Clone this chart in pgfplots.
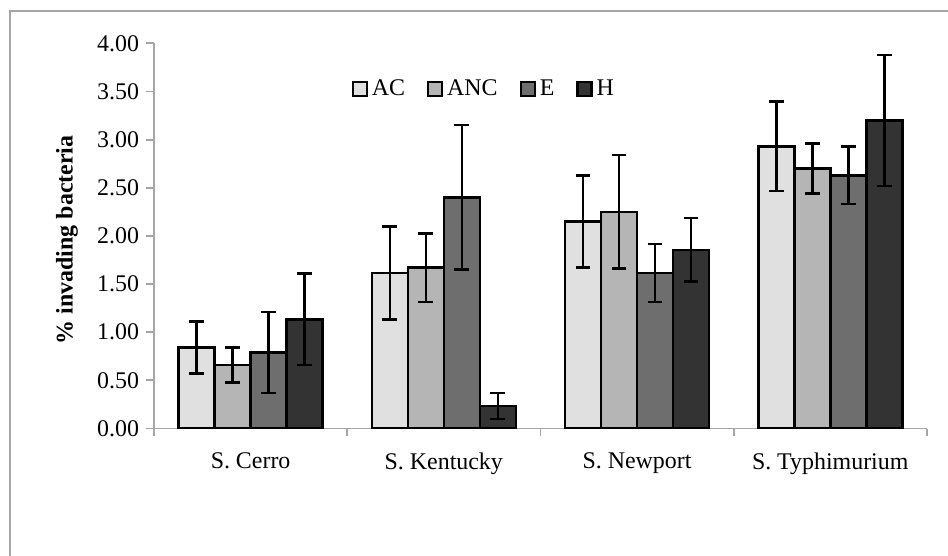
\documentclass[border=0pt]{standalone}
\usepackage{pgfplots}
\pgfplotsset{compat=1.18}
\usepackage{fontspec}
\setmainfont{Liberation Serif}
\definecolor{cAC}{HTML}{E0E0E0}
\definecolor{cANC}{HTML}{B5B5B5}
\definecolor{cE}{HTML}{6E6E6E}
\definecolor{cH}{HTML}{333333}
\definecolor{axgray}{HTML}{A6A6A6}
\pgfplotsset{sqlegend/.style={legend image code/.code={\draw[##1,line width=1.1bp] (0bp,-3.5bp) rectangle (7bp,3.5bp);}}}
\begin{document}
\begin{tikzpicture}
\clip (0,0) rectangle (474bp,278bp);
\draw[axgray,line width=1bp] (5bp,272.5bp) rectangle (490bp,-10bp);
\begin{axis}[
  at={(77bp,63.75bp)}, anchor=south west,
  scale only axis, width=386.4bp, height=192.6bp,
  ybar=0pt, bar width=18bp,
  xmin=-0.5, xmax=3.5, ymin=0, ymax=4,
  xtick={-0.5,0.5,1.5,2.5,3.5},
  xticklabels={S. Cerro,S. Kentucky,S. Newport,S. Typhimurium},
  x tick label as interval,
  ytick={0,0.5,...,4},
  axis x line*=bottom, axis y line*=left,
  axis line style={axgray,line width=0.9bp,-},
  tick style={axgray,line width=0.9bp},
  tick align=outside, major tick length=4bp,
  font=\fontsize{12}{14}\selectfont,
  ticklabel style={font=\fontsize{12}{14}\selectfont, black},
  yticklabel style={/pgf/number format/.cd, fixed, fixed zerofill, precision=2, assume math mode=true},
  xticklabel style={yshift=-4.5bp},
  ylabel={\textbf{\% invading bacteria}},
  ylabel style={at={(axis description cs:-0.1126,0.49)}, anchor=center, font=\fontsize{12}{14}\selectfont},
  legend columns=4,
  legend style={draw=none, fill=none, at={(axis description cs:0.428,0.882)}, anchor=center,
    font=\fontsize{12}{14}\selectfont, /tikz/every even column/.append style={column sep=9bp},
    /tikz/every odd column/.append style={column sep=0bp}},
  legend cell align=left,
  error bars/error bar style={line width=1.3bp, black},
  error bars/error mark options={rotate=90, mark size=3.7bp, line width=1.3bp, black},
]
\addplot[sqlegend, fill=cAC, draw=black, line width=1.3bp,
  error bars/.cd, y dir=both, y explicit] coordinates {
  (0,0.84) +- (0,0.27)
  (1,1.615) +- (0,0.48)
  (2,2.15) +- (0,0.48)
  (3,2.93) +- (0,0.465)
};
\addplot[sqlegend, fill=cANC, draw=black, line width=1.3bp,
  error bars/.cd, y dir=both, y explicit] coordinates {
  (0,0.66) +- (0,0.18)
  (1,1.67) +- (0,0.355)
  (2,2.25) +- (0,0.59)
  (3,2.70) +- (0,0.26)
};
\addplot[sqlegend, fill=cE, draw=black, line width=1.3bp,
  error bars/.cd, y dir=both, y explicit] coordinates {
  (0,0.79) +- (0,0.42)
  (1,2.40) +- (0,0.75)
  (2,1.615) +- (0,0.30)
  (3,2.63) +- (0,0.30)
};
\addplot[sqlegend, fill=cH, draw=black, line width=1.3bp,
  error bars/.cd, y dir=both, y explicit] coordinates {
  (0,1.135) +- (0,0.475)
  (1,0.235) +- (0,0.135)
  (2,1.855) +- (0,0.33)
  (3,3.20) +- (0,0.68)
};
\legend{AC,ANC,E,H}
\end{axis}
\end{tikzpicture}
\end{document}
